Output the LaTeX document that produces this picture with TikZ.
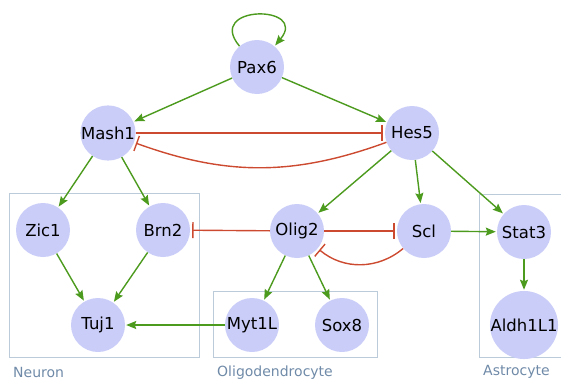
\documentclass[tikz,border=0pt]{standalone}
\usepackage{fontspec}
\setmainfont{DejaVu Sans}
\usetikzlibrary{arrows.meta}
\definecolor{nodefill}{HTML}{CACDF8}
\definecolor{actc}{HTML}{4C9A1E}
\definecolor{inhc}{HTML}{CC4A30}
\definecolor{boxc}{HTML}{BCCBD9}
\definecolor{labc}{HTML}{6F8AA8}
\tikzset{
  gene/.style={circle, fill=nodefill, draw=none, minimum size=54pt, inner sep=0pt, font=\fontsize{16.5}{17}\selectfont},
  act/.style={draw=actc, line width=1.4pt, -{Stealth[length=10pt,width=8pt,inset=1.5pt]}, shorten >=1pt},
  inh/.style={draw=inhc, line width=1.4pt, -{Bar[width=16pt,line width=1.4pt]}, shorten >=2pt},
  group/.style={draw=boxc, line width=0.9pt},
  grouplabel/.style={text=labc, font=\fontsize{14}{15}\selectfont, inner sep=0pt}
}
\begin{document}
\begin{tikzpicture}[x=1pt,y=-1pt]
\useasboundingbox (0,0) rectangle (561,380);
% group boxes
\draw[group] (9,193) rectangle (199,357);
\draw[group] (213,291) rectangle (377,357);
\draw[group] (479,194) rectangle (570,357);
\node[grouplabel, anchor=west] (lneuron) at (13,372) {Neuron};
\node[grouplabel, anchor=west] (loligo) at (217,373) {Oligodendrocyte};
\node[grouplabel, anchor=west] (lastro) at (483,372) {Astrocyte};
% genes
\node[gene] (pax6) at (257,67) {Pax6};
\node[gene] (mash1) at (108,133) {Mash1};
\node[gene] (hes5) at (412,133) {Hes5};
\node[gene] (zic1) at (43,230) {Zic1};
\node[gene] (brn2) at (163,230) {Brn2};
\node[gene] (olig2) at (297,231) {Olig2};
\node[gene] (scl) at (424,231) {Scl};
\node[gene] (stat3) at (524,232) {Stat3};
\node[gene] (tuj1) at (98,325) {Tuj1};
\node[gene] (myt1l) at (252,325) {Myt1L};
\node[gene] (sox8) at (342,325) {Sox8};
\node[gene] (aldh) at (524,325) {Aldh1L1};
% edges
\draw[act] (pax6) to[out=130,in=50,looseness=4] (pax6);
\draw[act] (pax6) -- (mash1);
\draw[act] (pax6) -- (hes5);
\draw[inh] (mash1) -- (hes5);
\draw[inh] (hes5) to[bend left=20] (mash1);
\draw[act] (mash1) -- (zic1);
\draw[act] (mash1) -- (brn2);
\draw[act] (hes5) -- (olig2);
\draw[act] (hes5) -- (scl);
\draw[act] (hes5) -- (stat3);
\draw[inh] (olig2) -- (brn2);
\draw[inh] (olig2) -- (scl);
\draw[inh] (scl) to[bend left=40] (olig2);
\draw[act] (scl) -- (stat3);
\draw[act] (zic1) -- (tuj1);
\draw[act] (brn2) -- (tuj1);
\draw[act] (olig2) -- (myt1l);
\draw[act] (olig2) -- (sox8);
\draw[act] (myt1l) -- (tuj1);
\draw[act] (stat3) -- (aldh);
\end{tikzpicture}
\end{document}
